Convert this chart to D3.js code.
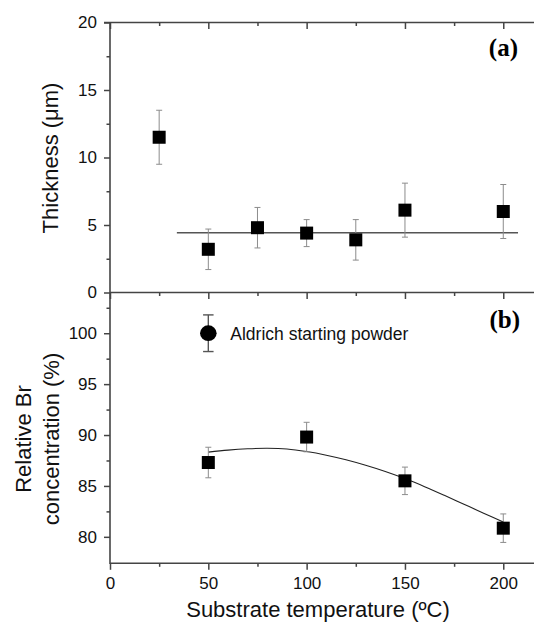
<!DOCTYPE html>
<html>
<head>
<meta charset="utf-8">
<script src="https://cdn.jsdelivr.net/npm/d3@7"></script>
<style>
  html, body { margin: 0; padding: 0; background: #fff; }
  svg { display: block; }
</style>
</head>
<body>
<svg id="chart" width="534" height="624"></svg>
<script>
// ---------- data ----------
const tempTicks = [0, 50, 100, 150, 200];
const tempMinorTicks = [25, 75, 125, 175];

// Panel (a): thickness
const thickTemps = [25, 50, 75, 100, 125, 150, 200];
const thickValues = [11.5, 3.2, 4.8, 4.4, 3.9, 6.1, 6.0];
const thickErrors = [2.0, 1.5, 1.5, 1.0, 1.5, 2.0, 2.0];
const thickFitX = [34, 207.5];
const thickFitY = [4.43, 4.43];
const thickTicks = [0, 5, 10, 15, 20];
const thickMinorTicks = [2.5, 7.5, 12.5, 17.5];

// Panel (b): relative Br concentration
const brTemps = [50, 100, 150, 200];
const brValues = [87.3, 89.8, 85.5, 80.85];
const brErrors = [1.5, 1.45, 1.35, 1.4];
const brFitX = [50, 60, 70, 80, 90, 100, 110, 120, 130, 140, 150, 160, 170, 180, 190, 200];
const brFitY = [88.32, 88.52, 88.65, 88.70, 88.63, 88.38, 88.02, 87.57, 87.03, 86.42, 85.72, 84.93, 84.08, 83.2, 82.32, 81.45];
const brTicks = [80, 85, 90, 95, 100];
const brMinorTicks = [82.5, 87.5, 92.5, 97.5, 102.5];

// Aldrich starting powder reference
const refTemp = [50];
const refValue = [100.0];
const refError = [1.8];
const refLabel = ["Aldrich starting powder"];

// ---------- layout ----------
const svg = d3.select("#chart");
const FONT = "'Liberation Sans', Arial, sans-serif";
const AXIS_COLOR = "#444";

const x = d3.scaleLinear().domain([0, 220]).range([110, 542.6]);
const yA = d3.scaleLinear().domain([0, 20]).range([292.5, 22.5]);
const yB = d3.scaleLinear().domain([77.4, 104]).range([563.3, 292.5]);

function styleAxis(g, showText) {
  g.select(".domain").remove();
  g.selectAll(".tick line").attr("stroke", AXIS_COLOR).attr("stroke-width", 1.5);
  g.selectAll(".tick text")
    .attr("fill", "#111")
    .style("font-family", FONT)
    .style("font-size", "17px");
  if (!showText) g.selectAll(".tick text").remove();
}

// x axes (ticks down) at top, middle, bottom
const xLines = [yA.range()[1], yA.range()[0], yB.range()[0]];
xLines.forEach((yy, i) => {
  const last = i === xLines.length - 1;
  svg.append("g").attr("transform", `translate(0,${yy})`)
    .call(d3.axisBottom(x).tickValues(tempTicks).tickSize(6.5).tickSizeOuter(0).tickPadding(7)
      .tickFormat(d3.format("d")))
    .call(g => styleAxis(g, last));
  svg.append("g").attr("transform", `translate(0,${yy})`)
    .call(d3.axisBottom(x).tickValues(tempMinorTicks).tickSize(3.5).tickSizeOuter(0).tickFormat(""))
    .call(g => styleAxis(g, false));
  svg.append("line")
    .attr("x1", x(0) - (i === 0 ? 6 : 0)).attr("x2", 534)
    .attr("y1", yy).attr("y2", yy)
    .attr("stroke", AXIS_COLOR).attr("stroke-width", 1.6);
});

// y axes
svg.append("g").attr("transform", `translate(${x(0)},0)`)
  .call(d3.axisLeft(yA).tickValues(thickTicks).tickSize(6).tickSizeOuter(0).tickPadding(7))
  .call(g => styleAxis(g, true));
svg.append("g").attr("transform", `translate(${x(0)},0)`)
  .call(d3.axisLeft(yA).tickValues(thickMinorTicks).tickSize(3.5).tickSizeOuter(0).tickFormat(""))
  .call(g => styleAxis(g, false));
svg.append("g").attr("transform", `translate(${x(0)},0)`)
  .call(d3.axisLeft(yB).tickValues(brTicks).tickSize(6).tickSizeOuter(0).tickPadding(7))
  .call(g => styleAxis(g, true));
svg.append("g").attr("transform", `translate(${x(0)},0)`)
  .call(d3.axisLeft(yB).tickValues(brMinorTicks).tickSize(3.5).tickSizeOuter(0).tickFormat(""))
  .call(g => styleAxis(g, false));
svg.append("line")
  .attr("x1", x(0)).attr("x2", x(0))
  .attr("y1", yA.range()[1]).attr("y2", yB.range()[0] + 0.8)
  .attr("stroke", AXIS_COLOR).attr("stroke-width", 1.6);

// ---------- panel (a) ----------
const ERR = "#8c8c8c";
function errorBars(xs, ys, es, yScale, color, capW, width) {
  const g = svg.append("g").attr("stroke", color).attr("stroke-width", width).attr("fill", "none");
  xs.forEach((t, i) => {
    const cx = x(t), top = yScale(ys[i] + es[i]), bot = yScale(ys[i] - es[i]);
    g.append("line").attr("x1", cx).attr("x2", cx).attr("y1", top).attr("y2", bot);
    g.append("line").attr("x1", cx - capW / 2).attr("x2", cx + capW / 2).attr("y1", top).attr("y2", top);
    g.append("line").attr("x1", cx - capW / 2).attr("x2", cx + capW / 2).attr("y1", bot).attr("y2", bot);
  });
}
function squares(xs, ys, yScale) {
  svg.append("g").selectAll("rect").data(xs).join("rect")
    .attr("x", (d) => x(d) - 6.5)
    .attr("y", (d, i) => yScale(ys[i]) - 6.5)
    .attr("width", 13).attr("height", 13)
    .attr("fill", "#000");
}

svg.append("line")
  .attr("x1", x(thickFitX[0])).attr("x2", x(thickFitX[1]))
  .attr("y1", yA(thickFitY[0])).attr("y2", yA(thickFitY[1]))
  .attr("stroke", "#555").attr("stroke-width", 1.4);
errorBars(thickTemps, thickValues, thickErrors, yA, ERR, 6, 1);
squares(thickTemps, thickValues, yA);

// ---------- panel (b) ----------
const fitLine = d3.line().x((d, i) => x(brFitX[i])).y((d) => yB(d)).curve(d3.curveCatmullRom);
svg.append("path").attr("d", fitLine(brFitY))
  .attr("fill", "none").attr("stroke", "#222").attr("stroke-width", 1.1);
errorBars(brTemps, brValues, brErrors, yB, ERR, 6, 1);
squares(brTemps, brValues, yB);

// reference point (legend-like)
errorBars(refTemp, refValue, refError, yB, "#555", 10.5, 1.4);
svg.append("ellipse")
  .attr("cx", x(refTemp[0])).attr("cy", yB(refValue[0]))
  .attr("rx", 8.3).attr("ry", 7.9).attr("fill", "#000");
svg.append("text")
  .attr("x", x(refTemp[0]) + 22).attr("y", yB(refValue[0]) + 7)
  .style("font-family", FONT).style("font-size", "17.5px").attr("fill", "#111")
  .text(refLabel[0]);

// ---------- labels ----------
svg.append("text").attr("x", 518).attr("y", 56).attr("text-anchor", "end")
  .style("font-family", "'Liberation Serif', 'Times New Roman', serif")
  .style("font-weight", "bold").style("font-size", "25px").text("(a)");
svg.append("text").attr("x", 520).attr("y", 328).attr("text-anchor", "end")
  .style("font-family", "'Liberation Serif', 'Times New Roman', serif")
  .style("font-weight", "bold").style("font-size", "25px").text("(b)");

svg.append("text")
  .attr("transform", "translate(57.5,158) rotate(-90)")
  .attr("text-anchor", "middle")
  .style("font-family", FONT).style("font-size", "22px").attr("fill", "#111")
  .text("Thickness (\u03BCm)");

const brTitle = svg.append("text")
  .attr("transform", "translate(0,439) rotate(-90)")
  .attr("text-anchor", "middle")
  .style("font-family", FONT).style("font-size", "22px").attr("fill", "#111");
brTitle.append("tspan").attr("x", 0).attr("y", 31).text("Relative Br");
brTitle.append("tspan").attr("x", 0).attr("y", 58.5).text("concentration (%)");

svg.append("text")
  .attr("x", 318).attr("y", 617).attr("text-anchor", "middle")
  .style("font-family", FONT).style("font-size", "22px").attr("fill", "#111")
  .text("Substrate temperature (\u00BAC)");
</script>
</body>
</html>
